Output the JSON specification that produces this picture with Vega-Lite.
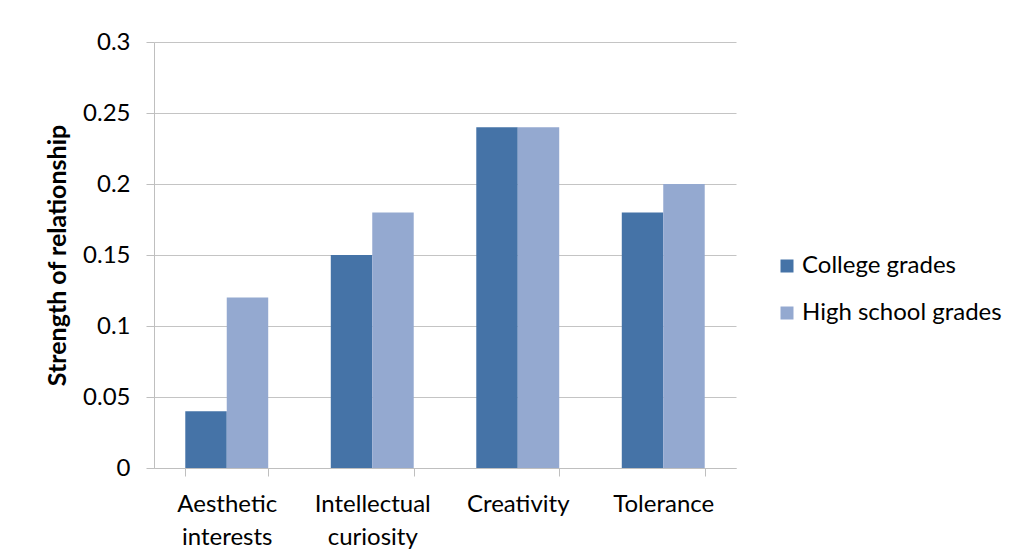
{
  "$schema": "https://vega.github.io/schema/vega-lite/v6.json",
  "autosize": "none",
  "width": 582,
  "height": 426,
  "padding": {"left": 154, "top": 42, "right": 282, "bottom": 90},
  "background": "white",
  "config": {
    "font": "Lato",
    "view": {"stroke": null},
    "axis": {
      "labelFont": "Lato",
      "labelFontSize": 24,
      "labelColor": "black",
      "domainColor": "#BFBFBF",
      "tickColor": "#BFBFBF",
      "gridColor": "#C4C4C4",
      "titleFont": "Lato",
      "titleColor": "black"
    },
    "legend": {"labelFont": "Lato", "labelFontSize": 24, "labelColor": "black", "labelLimit": 400}
  },
  "data": {
    "values": [
      {"trait": "Aesthetic interests", "series": "College grades", "value": 0.04},
      {"trait": "Aesthetic interests", "series": "High school grades", "value": 0.12},
      {"trait": "Intellectual curiosity", "series": "College grades", "value": 0.15},
      {"trait": "Intellectual curiosity", "series": "High school grades", "value": 0.18},
      {"trait": "Creativity", "series": "College grades", "value": 0.24},
      {"trait": "Creativity", "series": "High school grades", "value": 0.24},
      {"trait": "Tolerance", "series": "College grades", "value": 0.18},
      {"trait": "Tolerance", "series": "High school grades", "value": 0.2}
    ]
  },
  "mark": {"type": "bar"},
  "encoding": {
    "x": {
      "field": "trait",
      "type": "nominal",
      "sort": null,
      "scale": {"paddingInner": 0.43, "paddingOuter": 0.215},
      "axis": {
        "title": null,
        "labelAngle": 0,
        "labelExpr": "split(datum.label, ' ')",
        "labelLineHeight": 33,
        "labelBaseline": "top",
        "labelPadding": 16,
        "tickBand": "extent",
        "tickSize": 8,
        "grid": false
      }
    },
    "xOffset": {"field": "series", "type": "nominal"},
    "y": {
      "field": "value",
      "type": "quantitative",
      "scale": {"domain": [0, 0.3]},
      "axis": {
        "title": "Strength of relationship",
        "titleFontSize": 25,
        "titleFontWeight": "bold",
        "titlePadding": 12,
        "values": [0, 0.05, 0.1, 0.15, 0.2, 0.25, 0.3],
        "format": "~g",
        "tickSize": 8,
        "labelPadding": 16,
        "grid": true
      }
    },
    "color": {
      "field": "series",
      "type": "nominal",
      "scale": {"domain": ["College grades", "High school grades"], "range": ["#4573A7", "#94A9D0"]},
      "legend": {
        "title": null,
        "orient": "none",
        "legendX": 621,
        "legendY": 212,
        "symbolType": "square",
        "symbolSize": 169,
        "symbolStrokeWidth": 0,
        "symbolOpacity": 1,
        "rowPadding": 23,
        "labelOffset": 3
      }
    }
  }
}
